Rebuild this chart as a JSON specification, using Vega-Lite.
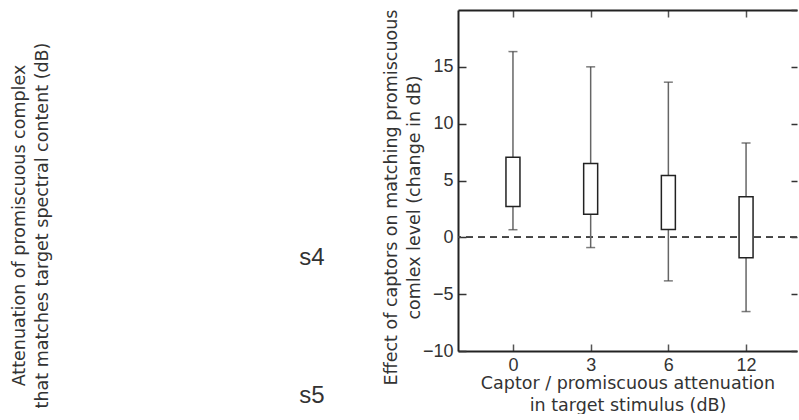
{
  "$schema": "https://vega.github.io/schema/vega-lite/v6.json",
  "padding": {"left": 10, "top": 9, "right": 0, "bottom": 0},
  "spacing": 47,
  "config": {"view": {"stroke": null}, "font": "DejaVu Sans"},
  "hconcat": [
    {
      "width": 46,
      "height": 341,
      "data": {"values": [{"label": "s4"}, {"label": "s5"}]},
      "mark": {"type": "text", "font": "Liberation Sans", "fontSize": 24, "color": "#333", "baseline": "middle"},
      "encoding": {
        "y": {
          "field": "label", "type": "nominal",
          "scale": {"type": "point", "range": [248, 385.5], "padding": 0},
          "axis": {
            "title": ["Attenuation of promiscuous complex", "that matches target spectral content (dB)"],
            "labels": false, "ticks": false, "domain": false, "grid": false,
            "titleFont": "DejaVu Sans", "titleFontSize": 17.5, "titleFontWeight": "normal",
            "titleColor": "#333", "titleLineHeight": 23, "titleY": 215, "titlePadding": 238
          }
        },
        "text": {"field": "label"}
      }
    },
    {
      "width": 339,
      "height": 341,
      "data": {"values": [
        {"att": "0", "lo": 0.67, "q1": 2.72, "q3": 7.04, "hi": 16.34},
        {"att": "3", "lo": -0.9, "q1": 2.02, "q3": 6.49, "hi": 15.0},
        {"att": "6", "lo": -3.83, "q1": 0.7, "q3": 5.44, "hi": 13.65},
        {"att": "12", "lo": -6.53, "q1": -1.79, "q3": 3.56, "hi": 8.3}
      ]},
      "layer": [
        {
          "layer": [
            {
              "mark": {"type": "rule", "strokeDash": [7, 5], "color": "#444", "strokeWidth": 1.5},
              "encoding": {"y": {"datum": 0, "type": "quantitative"}}
            },
            {
              "mark": {"type": "rule", "color": "#666", "strokeWidth": 1.5},
              "encoding": {
                "x": {
                  "field": "att", "type": "nominal", "sort": ["0", "3", "6", "12"],
                  "scale": {"type": "point", "padding": 0.6815, "align": 0.519},
                  "axis": {
                    "orient": "bottom", "labelAngle": 0, "tickSize": -7, "tickColor": "#555", "tickWidth": 1.5,
                    "domain": true, "domainColor": "#222", "domainWidth": 2,
                    "labelFont": "Liberation Sans", "labelFontSize": 18, "labelColor": "#333", "labelPadding": 12,
                    "title": ["Captor / promiscuous attenuation", "in target stimulus (dB)"],
                    "titleFont": "DejaVu Sans", "titleFontSize": 17.5, "titleFontWeight": "normal",
                    "titleColor": "#333", "titleLineHeight": 22, "titlePadding": 0
                  }
                },
                "y": {
                  "field": "lo", "type": "quantitative",
                  "scale": {"domain": [-10, 20], "nice": false, "zero": false},
                  "axis": {
                    "orient": "left", "values": [-10, -5, 0, 5, 10, 15], "grid": false,
                    "tickSize": -8, "tickColor": "#333", "tickWidth": 1.5,
                    "domain": true, "domainColor": "#222", "domainWidth": 2,
                    "labelFont": "Liberation Sans", "labelFontSize": 18, "labelColor": "#333", "labelPadding": 13,
                    "title": ["Effect of captors on matching promiscuous", "comlex level (change in dB)"],
                    "titleFont": "DejaVu Sans", "titleFontSize": 17.5, "titleFontWeight": "normal",
                    "titleColor": "#333", "titleLineHeight": 23, "titleY": 187, "titlePadding": -1
                  }
                },
                "y2": {"field": "hi"}
              }
            },
            {
              "mark": {"type": "bar", "size": 14, "fill": "white", "stroke": "#222", "strokeWidth": 1.5},
              "encoding": {
                "x": {"field": "att", "type": "nominal", "sort": ["0", "3", "6", "12"]},
                "y": {"field": "q1", "type": "quantitative"},
                "y2": {"field": "q3"}
              }
            },
            {
              "mark": {"type": "tick", "size": 9, "thickness": 1.5, "color": "#444"},
              "encoding": {
                "x": {"field": "att", "type": "nominal", "sort": ["0", "3", "6", "12"]},
                "y": {"field": "hi", "type": "quantitative"}
              }
            },
            {
              "mark": {"type": "tick", "size": 9, "thickness": 1.5, "color": "#444"},
              "encoding": {
                "x": {"field": "att", "type": "nominal", "sort": ["0", "3", "6", "12"]},
                "y": {"field": "lo", "type": "quantitative"}
              }
            }
          ]
        },
        {
          "mark": {"type": "rule", "opacity": 0},
          "encoding": {
            "x": {
              "field": "att", "type": "nominal", "sort": ["0", "3", "6", "12"],
              "scale": {"type": "point", "padding": 0.6815, "align": 0.519},
              "axis": {
                "orient": "top", "labels": false, "tickSize": -7, "tickColor": "#555", "tickWidth": 1.5,
                "domain": true, "domainColor": "#222", "domainWidth": 2, "title": null
              }
            },
            "y": {
              "field": "hi", "type": "quantitative",
              "scale": {"domain": [-10, 20], "nice": false, "zero": false},
              "axis": {
                "orient": "right", "labels": false, "domain": false, "grid": false,
                "values": [-10, -5, 0, 5, 10, 15, 20],
                "tickSize": -6, "tickColor": "#333", "tickWidth": 1.5, "title": null
              }
            }
          }
        }
      ],
      "resolve": {"scale": {"x": "independent", "y": "independent"}}
    }
  ]
}
